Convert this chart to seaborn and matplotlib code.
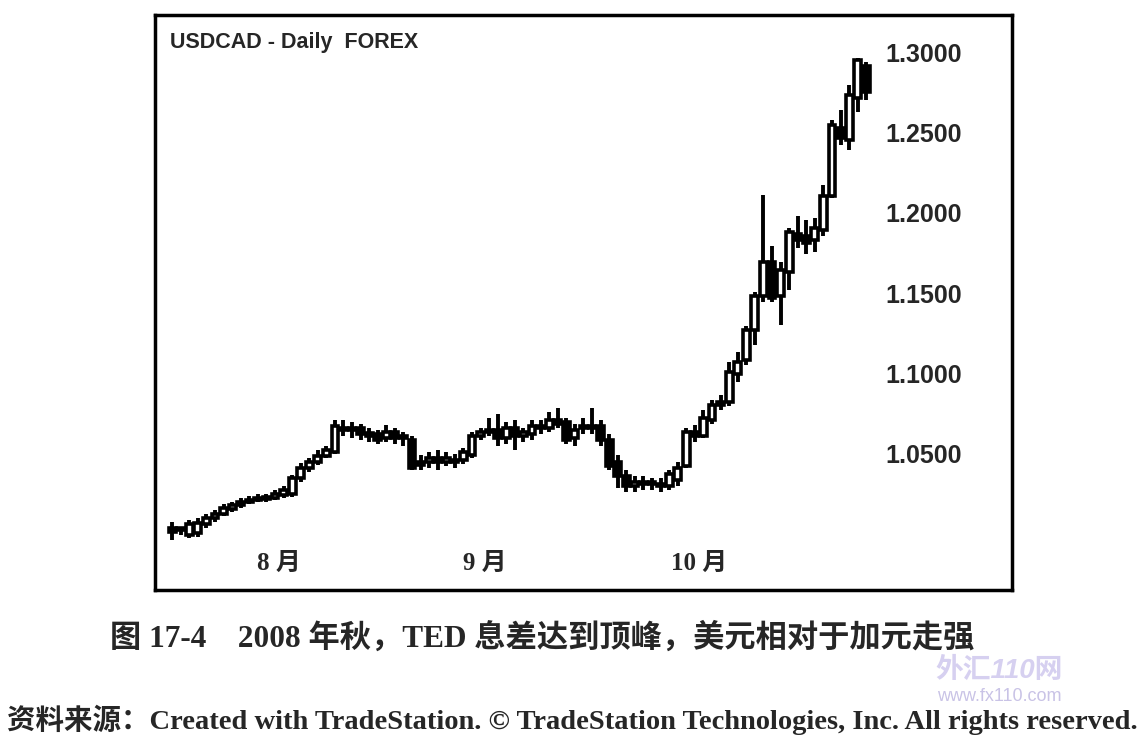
import matplotlib
matplotlib.use("Agg")
import matplotlib.pyplot as plt
import matplotlib.transforms as mtransforms
import seaborn as sns

# USDCAD daily bars (open, high, low, close)
opens = [1.0051, 1.0039, 1.0007, 1.0020, 1.0076, 1.0113, 1.0138, 1.0170, 1.0195, 1.0213,
         1.0226, 1.0232, 1.0238, 1.0257, 1.0263, 1.0363, 1.0425, 1.0463, 1.0500, 1.0525,
         1.0675, 1.0662, 1.0675, 1.0644, 1.0637, 1.0612, 1.0650, 1.0625, 1.0600, 1.0444,
         1.0463, 1.0487, 1.0463, 1.0475, 1.0475, 1.0506, 1.0625, 1.0650, 1.0662, 1.0612,
         1.0675, 1.0625, 1.0637, 1.0687, 1.0675, 1.0724, 1.0712, 1.0612, 1.0675, 1.0687,
         1.0687, 1.0600, 1.0463, 1.0375, 1.0313, 1.0338, 1.0325, 1.0325, 1.0313, 1.0350,
         1.0438, 1.0650, 1.0625, 1.0724, 1.0818, 1.0837, 1.1011, 1.1098, 1.1286, 1.1497,
         1.1709, 1.1497, 1.1647, 1.1884, 1.1872, 1.1847, 1.1909, 1.2121, 1.2545, 1.2470,
         1.2732, 1.2931]
highs = [1.0088, 1.0057, 1.0101, 1.0113, 1.0138, 1.0163, 1.0201, 1.0213, 1.0238, 1.0251,
         1.0263, 1.0263, 1.0288, 1.0313, 1.0381, 1.0456, 1.0487, 1.0537, 1.0562, 1.0724,
         1.0724, 1.0712, 1.0699, 1.0675, 1.0662, 1.0693, 1.0675, 1.0650, 1.0625, 1.0506,
         1.0525, 1.0537, 1.0525, 1.0512, 1.0550, 1.0650, 1.0675, 1.0737, 1.0762, 1.0712,
         1.0724, 1.0675, 1.0724, 1.0724, 1.0774, 1.0799, 1.0737, 1.0699, 1.0737, 1.0799,
         1.0724, 1.0637, 1.0506, 1.0413, 1.0375, 1.0375, 1.0363, 1.0363, 1.0413, 1.0463,
         1.0675, 1.0693, 1.0787, 1.0849, 1.0880, 1.1086, 1.1148, 1.1310, 1.1522, 1.2127,
         1.1809, 1.1709, 1.1921, 1.1996, 1.1971, 1.1984, 1.2190, 1.2595, 1.2657, 1.2813,
         1.2981, 1.2956]
lows = [0.9976, 1.0007, 0.9989, 0.9995, 1.0051, 1.0088, 1.0126, 1.0151, 1.0176, 1.0201,
        1.0213, 1.0213, 1.0226, 1.0238, 1.0244, 1.0338, 1.0400, 1.0444, 1.0487, 1.0512,
        1.0625, 1.0612, 1.0600, 1.0587, 1.0575, 1.0587, 1.0575, 1.0562, 1.0413, 1.0413,
        1.0425, 1.0413, 1.0438, 1.0425, 1.0450, 1.0487, 1.0600, 1.0625, 1.0562, 1.0575,
        1.0537, 1.0587, 1.0600, 1.0637, 1.0650, 1.0675, 1.0575, 1.0562, 1.0637, 1.0637,
        1.0562, 1.0413, 1.0300, 1.0276, 1.0276, 1.0288, 1.0288, 1.0276, 1.0288, 1.0313,
        1.0425, 1.0587, 1.0612, 1.0699, 1.0787, 1.0812, 1.0961, 1.1067, 1.1192, 1.1460,
        1.1460, 1.1317, 1.1535, 1.1797, 1.1759, 1.1772, 1.1872, 1.2108, 1.2439, 1.2408,
        1.2645, 1.2719]
closes = [1.0026, 1.0039, 1.0076, 1.0082, 1.0113, 1.0138, 1.0176, 1.0195, 1.0213, 1.0226,
          1.0238, 1.0244, 1.0263, 1.0288, 1.0363, 1.0425, 1.0463, 1.0500, 1.0537, 1.0687,
          1.0662, 1.0675, 1.0637, 1.0625, 1.0600, 1.0650, 1.0612, 1.0612, 1.0425, 1.0463,
          1.0487, 1.0463, 1.0487, 1.0463, 1.0525, 1.0625, 1.0650, 1.0662, 1.0612, 1.0675,
          1.0625, 1.0650, 1.0687, 1.0675, 1.0724, 1.0699, 1.0600, 1.0662, 1.0687, 1.0675,
          1.0600, 1.0438, 1.0375, 1.0313, 1.0338, 1.0325, 1.0325, 1.0313, 1.0387, 1.0425,
          1.0650, 1.0625, 1.0737, 1.0818, 1.0837, 1.1024, 1.1086, 1.1286, 1.1497, 1.1709,
          1.1485, 1.1660, 1.1896, 1.1847, 1.1828, 1.1921, 1.2121, 1.2564, 1.2483, 1.2751,
          1.2969, 1.2769]

month_bars = [12, 36, 61]
month_labels = ["8 月", "9 月", "10 月"]
price_ticks = [1.05, 1.10, 1.15, 1.20, 1.25, 1.30]
price_labels = ["1.0500", "1.1000", "1.1500", "1.2000", "1.2500", "1.3000"]

sns.set_theme(style="white")
plt.rcParams["font.family"] = ["Liberation Sans", "Noto Sans CJK SC", "DejaVu Sans"]
serif_cjk = ["Liberation Serif", "Noto Sans CJK SC"]

fig = plt.figure(figsize=(11.42, 7.46), dpi=100)
ax = fig.add_axes([0.1357, 0.2091, 0.7504, 0.7708])

idx = list(range(len(closes)))
# wicks
ax.vlines(idx, lows, highs, color="black", linewidth=2.8, zorder=1)
# bodies: hollow for up bars, solid for down bars
for i in idx:
    o, c = opens[i], closes[i]
    bottom = min(o, c)
    h = max(abs(c - o), 0.0012)
    face = "white" if c >= o else "black"
    ax.bar(i, h, bottom=bottom, width=0.8, color=face, edgecolor="black",
           linewidth=2.6, zorder=2)

ax.set_xlim(-2, 98)
ax.set_ylim(0.9665, 1.3249)
ax.set_xticks([])
ax.set_yticks([])
for s in ax.spines.values():
    s.set_color("black")
    s.set_linewidth(2.5)

ax.text(0.018, 0.953, "USDCAD - Daily  FOREX", transform=ax.transAxes,
        fontsize=15.5, fontweight="bold", ha="left", va="center")

ytrans = mtransforms.blended_transform_factory(ax.transAxes, ax.transData)
for t, lab in zip(price_ticks, price_labels):
    ax.text(0.852, t, lab, transform=ytrans, fontsize=18, fontweight="bold",
            ha="left", va="center")

xtrans = mtransforms.blended_transform_factory(ax.transData, ax.transAxes)
for b, lab in zip(month_bars, month_labels):
    ax.text(b + 0.5, 0.047, lab, transform=xtrans, fontsize=18,
            family=serif_cjk, fontweight="bold", ha="center", va="center")

fig.text(0.096, 0.145, "图 17-4    2008 年秋，TED 息差达到顶峰，美元相对于加元走强",
         family=serif_cjk, fontsize=22.5, fontweight="bold", ha="left", va="center")
fig.text(0.006, 0.035,
         "资料来源：Created with TradeStation. © TradeStation Technologies, Inc. All rights reserved.",
         family=serif_cjk, fontsize=20.5, fontweight="bold", ha="left", va="center")
# faint site watermark
fig.text(0.875, 0.1, "外汇110网", color="#d6d0f0", fontsize=20, fontweight="bold",
         style="italic", ha="center", va="center", zorder=0)
fig.text(0.875, 0.066, "www.fx110.com", color="#c9c3e6", fontsize=13,
         ha="center", va="center")

fig.savefig("out.png", dpi=100, facecolor="white")
